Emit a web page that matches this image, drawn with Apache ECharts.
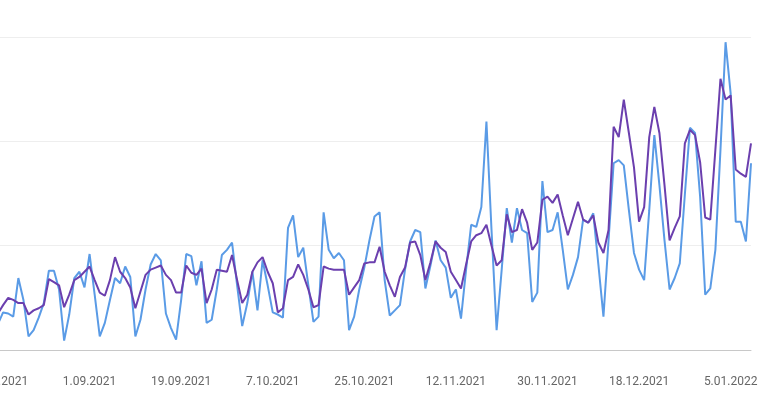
<!DOCTYPE html>
<html><head><meta charset="utf-8">
<script src="https://cdn.jsdelivr.net/npm/echarts@6/dist/echarts.min.js"></script>
<style>html,body{margin:0;padding:0;background:#fff}#c{width:768px;height:413px}</style>
</head><body><div id="c"></div>
<script>
var startDate = '2021-08-14';
var blueValues = [25,36,35,32,69,48,13,19,31,45,76,76,58,9,34,69,75,60,92,53,13,26,48,69,64,80,70,13,29,58,82,92,86,35,21,10,48,92,90,62,85,26,29,58,91,96,103,62,23,45,75,38,86,62,36,34,31,117,129,89,98,62,27,32,132,96,88,93,86,19,32,58,79,105,128,132,67,33,38,43,77,104,115,113,59,81,105,86,79,50,58,30,77,120,118,137,219,115,19,77,136,103,136,115,112,46,55,162,113,115,132,96,58,72,89,125,122,131,82,32,105,179,182,177,134,93,77,67,134,206,158,105,58,69,83,149,213,208,147,53,59,96,192,295,246,123,123,104,179];
var purpleValues = [35,43,50,48,45,45,34,38,40,43,68,65,62,41,53,67,70,75,80,67,55,52,67,89,75,69,60,40,56,72,77,79,81,72,67,55,55,81,74,72,78,45,58,77,76,75,91,67,45,53,75,84,89,75,64,36,40,67,70,82,72,58,41,43,80,78,77,77,77,53,60,67,83,84,84,99,75,62,51,70,79,103,104,91,67,84,104,98,94,75,67,59,82,104,110,112,120,100,81,86,130,113,115,135,122,96,103,144,147,141,149,129,110,126,142,125,122,129,103,93,115,214,204,240,208,175,123,137,204,233,208,158,105,117,128,198,211,206,180,127,125,192,260,240,244,173,169,166,198];
var categories = [];
(function(){var d=new Date(startDate+'T00:00:00Z');for(var i=0;i<blueValues.length;i++){var t=new Date(d.getTime()+i*86400000);categories.push(t.getUTCDate()+'.'+String(t.getUTCMonth()+1).padStart(2,'0')+'.'+t.getUTCFullYear());}})();
var chart = echarts.init(document.getElementById('c'));
chart.setOption({
  animation:false,
  grid:{left:-2,right:17,top:37,bottom:63,containLabel:false,outerBoundsMode:'none'},
  xAxis:{type:'category',data:categories,boundaryGap:false,
    axisLine:{lineStyle:{color:'#c8c8c8',width:1}},axisTick:{show:false},
    axisLabel:{interval:17,color:'#666',fontFamily:'Roboto',fontSize:12,margin:26,hideOverlap:false}},
  yAxis:{type:'value',min:0,max:300,interval:100,axisLabel:{show:false},
    axisLine:{show:false},axisTick:{show:false},splitLine:{lineStyle:{color:'#eeeeee'}}},
  series:[
    {type:'line',data:blueValues,showSymbol:false,lineStyle:{color:'#5a9be6',width:2},itemStyle:{color:'#5a9be6'}},
    {type:'line',data:purpleValues,showSymbol:false,lineStyle:{color:'#6b3fae',width:2},itemStyle:{color:'#6b3fae'}}
  ]
});
</script></body></html>
